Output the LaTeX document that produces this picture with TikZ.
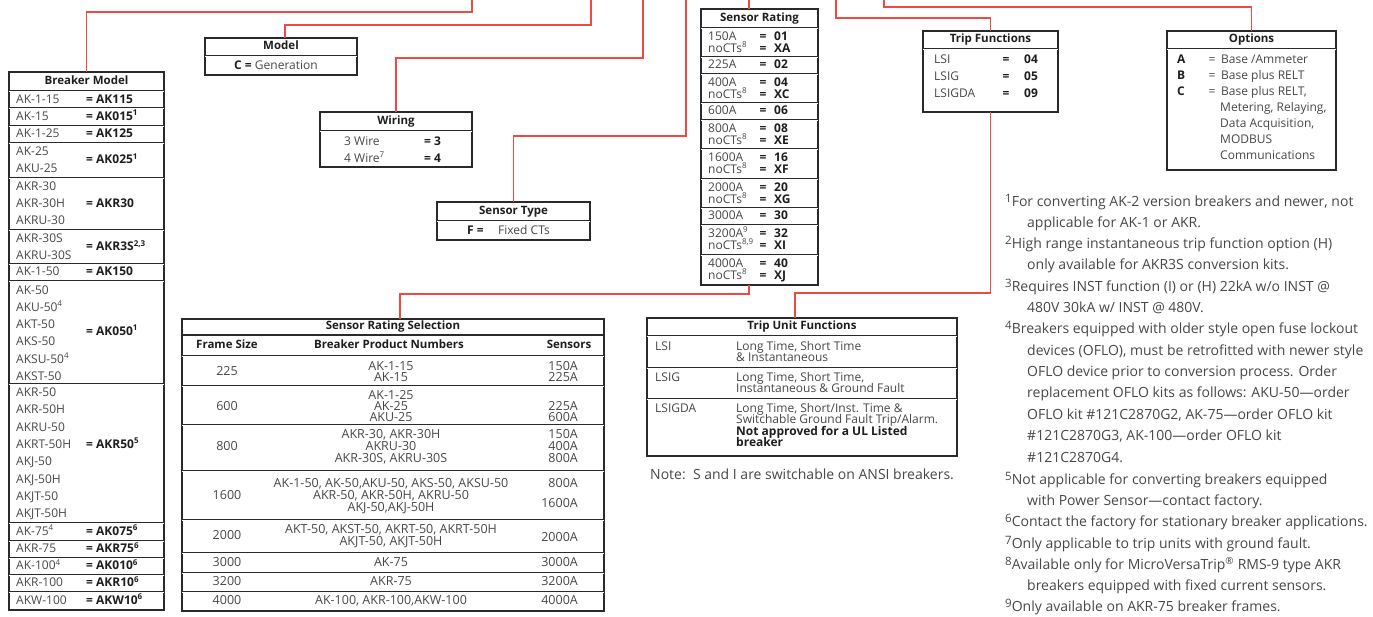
\documentclass[tikz,border=0pt]{standalone}
\usepackage{fontspec}
\setmainfont{Open Sans}
\usetikzlibrary{calc}
\definecolor{txt}{HTML}{474747}
\definecolor{dk}{HTML}{1e1e1e}
\definecolor{bx}{HTML}{2a2a2a}
\definecolor{rd}{HTML}{EB4B42}
\newcommand{\spx}[1]{\textsuperscript{#1}}
\newcommand{\fsz}[1]{\fontsize{#1}{#1}\selectfont}
\newcommand{\fnn}[1]{\raisebox{3.8pt}{\fsz{11.5}#1}}
\begin{document}
\begin{tikzpicture}[x=1pt,y=-1pt,
  box/.style={draw=bx, line width=1.6pt, anchor=north west, inner sep=0pt, outer sep=0pt},
  conn/.style={draw=rd, line width=1.4pt},
  dsep/.style={draw=bx, line width=1pt, double=white, double distance=0.9pt},
  ssep/.style={draw=bx, line width=1.3pt},
  hd/.style={font=\fsz{11.5}\bfseries, text=dk, inner sep=0pt, text height=8.4pt, text depth=2.4pt},
  tl/.style={anchor=west, font=\fsz{12}, text=txt, inner sep=0pt, text height=8.7pt, text depth=2.4pt},
  tb/.style={tl, font=\fsz{12}\bfseries, text=dk},
  tc/.style={tl, anchor=center},
  tcs/.style={tc, font=\fsz{12.5}},
  tr/.style={tl, anchor=east},
  fn/.style={anchor=west, font=\fsz{14}, text=txt, inner sep=0pt, text height=10pt, text depth=2.9pt},
]
\useasboundingbox (0,0) rectangle (1373,617);

% ---------- boxes ----------
\node[box, minimum width=155, minimum height=538] (bm) at (9,72) {};
\node[box, minimum width=152, minimum height=37] (mdl) at (205,38) {};
\node[box, minimum width=152, minimum height=55] (wir) at (320,112) {};
\node[box, minimum width=153, minimum height=38] (st) at (437,202) {};
\node[box, minimum width=117, minimum height=276] (sr) at (701,9) {};
\node[box, minimum width=135, minimum height=81] (tf) at (923,31) {};
\node[box, minimum width=169, minimum height=139] (opt) at (1167,31) {};
\node[box, minimum width=422, minimum height=292] (srs) at (182,319) {};
\node[box, minimum width=310, minimum height=138] (tuf) at (647,318) {};

% ---------- connectors ----------
\coordinate (t1) at (472,0);
\coordinate (t2) at (591,0);
\coordinate (t3) at (643,0);
\coordinate (t4) at (686,0);
\coordinate (t5) at (749,0);
\coordinate (t6) at (836,0);
\coordinate (t7) at (884,0);
\draw[conn] (t1) -- ++(0,12) -| (bm.north);
\draw[conn] (t2) -- ++(0,25) -| ([xshift=4pt]mdl.north);
\draw[conn] (t3) -- ++(0,58) -| (wir.north);
\draw[conn] (t4) -- ++(0,136) -| (st.north);
\draw[conn] (t5) -- (t5 |- sr.north);
\draw[conn] (t6) -- ++(0,18) -| (tf.north);
\draw[conn] (t7) -- ++(0,7) -| (opt.north);
\draw[conn] (sr.south -| t5) -- ++(0,9) -| ([xshift=7pt]srs.north);
\draw[conn] (tf.south) -- ++(0,181) -| ([xshift=-7pt]tuf.north);

% ---------- Breaker Model ----------
\node[hd] at (86.5,81.5) {Breaker Model};
\foreach \yy in {91,108,126,143,178,230,264,281,384,523,541,558,575,592}
  \draw[dsep] (9,\yy) -- (164,\yy);
\foreach \yy/\tt in {100/AK-1-15, 117/AK-15, 134.5/AK-1-25, 152/AK-25, 169/AKU-25,
  187/AKR-30, 204/AKR-30H, 221/AKRU-30, 239/AKR-30S, 256/AKRU-30S, 272.5/AK-1-50,
  291/AK-50, 308/AKU-50\spx{4}, 325/AKT-50, 342.5/AKS-50, 360/AKSU-50\spx{4}, 377/AKST-50,
  393/AKR-50, 410.5/AKR-50H, 428/AKRU-50, 445/AKRT-50H, 462.5/AKJ-50, 480/AKJ-50H,
  497/AKJT-50, 514.5/AKJT-50H, 532/AK-75\spx{4}, 549.5/AKR-75, 566.5/AK-100\spx{4},
  583.5/AKR-100, 601/AKW-100}
  \node[tl] at (16,\yy) {\tt};
\foreach \yy/\tt in {100/AK115, 117/AK015\spx{1}, 134.5/AK125, 160.5/AK025\spx{1},
  204/AKR30, 247.5/{AKR3S\spx{2,3}}, 272.5/AK150, 332/AK050\spx{1}, 445/AKR50\spx{5},
  532/AK075\spx{6}, 549.5/AKR75\spx{6}, 566.5/AK010\spx{6}, 583.5/AKR10\spx{6}, 601/AKW10\spx{6}}
  \node[tb] at (86,\yy) {= \tt};

% ---------- Model ----------
\node[hd] at (281,47) {Model};
\draw[dsep] (205,56) -- (357,56);
\node[tc] at (276,66) {\textbf{\color{dk}C =} Generation};

% ---------- Wiring ----------
\node[hd] at (396,121.5) {Wiring};
\draw[dsep] (320,131) -- (472,131);
\node[tl] at (344,142) {3 Wire};
\node[tl] at (344,159) {4 Wire\spx{7}};
\node[tb] at (424,142) {= 3};
\node[tb] at (424,159) {= 4};

% ---------- Sensor Type ----------
\node[hd] at (513.5,211.5) {Sensor Type};
\draw[dsep] (437,221) -- (590,221);
\node[tb] at (467,231) {F =};
\node[tl] at (498,231) {Fixed CTs};

% ---------- Sensor Rating ----------
\node[hd] at (759.5,18.5) {Sensor Rating};
\foreach \yy in {28,57,74,103,120,149,179,208,225,255}
  \draw[dsep] (701,\yy) -- (818,\yy);
\foreach \yy/\ll/\vv in {37/150A/01, 49/noCTs\spx{8}/XA, 65.5/225A/02, 83/400A/04,
  95/noCTs\spx{8}/XC, 111.5/600A/06, 129/800A/08, 141/noCTs\spx{8}/XE, 158/1600A/16,
  170/noCTs\spx{8}/XF, 188/2000A/20, 200/noCTs\spx{8}/XG, 216.5/3000A/30,
  234/3200A\spx{9}/32, 246/{noCTs\spx{8,9}}/XI, 264/4000A/40, 276/noCTs\spx{8}/XJ}
  {\node[tl] at (708,\yy) {\ll};
   \node[tb, anchor=center] at (763,\yy) {=};
   \node[tb] at (774,\yy) {\vv};}

% ---------- Trip Functions ----------
\node[hd] at (990.5,40) {Trip Functions};
\draw[dsep] (923,49) -- (1058,49);
\foreach \yy/\ll/\vv in {60/LSI/04, 77/LSIG/05, 94/LSIGDA/09}
  {\node[tl] at (934,\yy) {\ll};
   \node[tb, anchor=center] at (1006,\yy) {=};
   \node[tb] at (1024,\yy) {\vv};}

% ---------- Options ----------
\node[hd] at (1251.5,40) {Options};
\draw[dsep] (1167,49) -- (1336,49);
\foreach \yy/\ll/\vv in {60/A/{Base /Ammeter}, 76/B/{Base plus RELT}, 92/C/{Base plus RELT,}}
  {\node[tb] at (1177,\yy) {\ll};
   \node[tl, anchor=center] at (1212,\yy) {=};
   \node[tl] at (1221,\yy) {\vv};}
\node[tl] at (1220,108) {Metering, Relaying,};
\node[tl] at (1220,124) {Data Acquisition,};
\node[tl] at (1220,140) {MODBUS};
\node[tl] at (1220,156) {Communications};

% ---------- Sensor Rating Selection ----------
\node[hd] at (393,327) {Sensor Rating Selection};
\draw[ssep] (182,335) -- (604,335);
\node[hd] at (227,346) {Frame Size};
\node[hd] at (389,346) {Breaker Product Numbers};
\node[hd] at (569,346) {Sensors};
\foreach \yy in {356,386,425,471,520,553,573,592}
  \draw[dsep] (182,\yy) -- (604,\yy);
\foreach \yy/\ff in {372.5/225, 407/600, 447/800, 496/1600, 536/2000, 563/3000, 582.5/3200, 601.5/4000}
  \node[tcs] at (227,\yy) {\ff};
\foreach \yy/\pp in {367/AK-1-15, 378/AK-15, 396/AK-1-25, 407/AK-25, 418/AKU-25,
  435/{AKR-30, AKR-30H}, 447/AKRU-30, 459/{AKR-30S, AKRU-30S},
  484/{AK-1-50, AK-50,AKU-50, AKS-50, AKSU-50}, 496/{AKR-50, AKR-50H, AKRU-50},
  508/{AKJ-50,AKJ-50H}, 530/{AKT-50, AKST-50, AKRT-50, AKRT-50H}, 542/{AKJT-50, AKJT-50H},
  563/AK-75, 582.5/AKR-75, 601.5/{AK-100, AKR-100,AKW-100}}
  \node[tcs] at (391,\yy) {\pp};
\foreach \yy/\ss in {367/150A, 378/225A, 407/225A, 418/600A, 435/150A, 447/400A, 459/800A,
  484/800A, 504/1600A, 538/2000A, 563/3000A, 582.5/3200A, 601.5/4000A}
  \node[tr, font=\fsz{12.5}] at (578,\yy) {\ss};

% ---------- Trip Unit Functions ----------
\node[hd] at (802,327) {Trip Unit Functions};
\draw[dsep] (647,336) -- (957,336);
\draw[dsep] (647,368) -- (957,368);
\draw[dsep] (647,399) -- (957,399);
\node[tl] at (655,347) {LSI};
\node[tl] at (655,378) {LSIG};
\node[tl] at (655,409) {LSIGDA};
\node[tl] at (736,347) {Long Time, Short Time};
\node[tl] at (736,358) {\& Instantaneous};
\node[tl] at (736,378) {Long Time, Short Time,};
\node[tl] at (736,389) {Instantaneous \& Ground Fault};
\node[tl] at (736,409) {Long Time, Short/Inst. Time \&};
\node[tl] at (736,420) {Switchable Ground Fault Trip/Alarm.};
\node[tb] at (736,432) {Not approved for a UL Listed};
\node[tb] at (736,443) {breaker};
\node[fn] at (650,476) {Note:\ \ S and I are switchable on ANSI breakers.};

% ---------- Footnotes ----------
\node[fn] at (1005,203) {\fnn{1}For converting AK-2 version breakers and newer, not};
\node[fn] at (1027,224) {applicable for AK-1 or AKR.};
\node[fn] at (1005,245) {\fnn{2}High range instantaneous trip function option (H)};
\node[fn] at (1027,266) {only available for AKR3S conversion kits.};
\node[fn] at (1005,288) {\fnn{3}Requires INST function (I) or (H) 22kA w/o INST @};
\node[fn] at (1027,309) {480V 30kA w/ INST @ 480V.};
\node[fn] at (1005,330) {\fnn{4}Breakers equipped with older style open fuse lockout};
\node[fn] at (1027,352) {devices (OFLO), must be retrofitted with newer style};
\node[fn] at (1027,373) {OFLO device prior to conversion process. Order};
\node[fn] at (1027,394) {replacement OFLO kits as follows: AKU-50---order};
\node[fn] at (1027,416) {OFLO kit \#121C2870G2, AK-75---order OFLO kit};
\node[fn] at (1027,437) {\#121C2870G3, AK-100---order OFLO kit};
\node[fn] at (1027,459) {\#121C2870G4.};
\node[fn] at (1005,481) {\fnn{5}Not applicable for converting breakers equipped};
\node[fn] at (1027,502) {with Power Sensor---contact factory.};
\node[fn] at (1005,523) {\fnn{6}Contact the factory for stationary breaker applications.};
\node[fn] at (1005,545) {\fnn{7}Only applicable to trip units with ground fault.};
\node[fn] at (1005,566) {\fnn{8}Available only for MicroVersaTrip\textsuperscript{®} RMS-9 type AKR};
\node[fn] at (1027,587) {breakers equipped with fixed current sensors.};
\node[fn] at (1005,608) {\fnn{9}Only available on AKR-75 breaker frames.};
\end{tikzpicture}
\end{document}
